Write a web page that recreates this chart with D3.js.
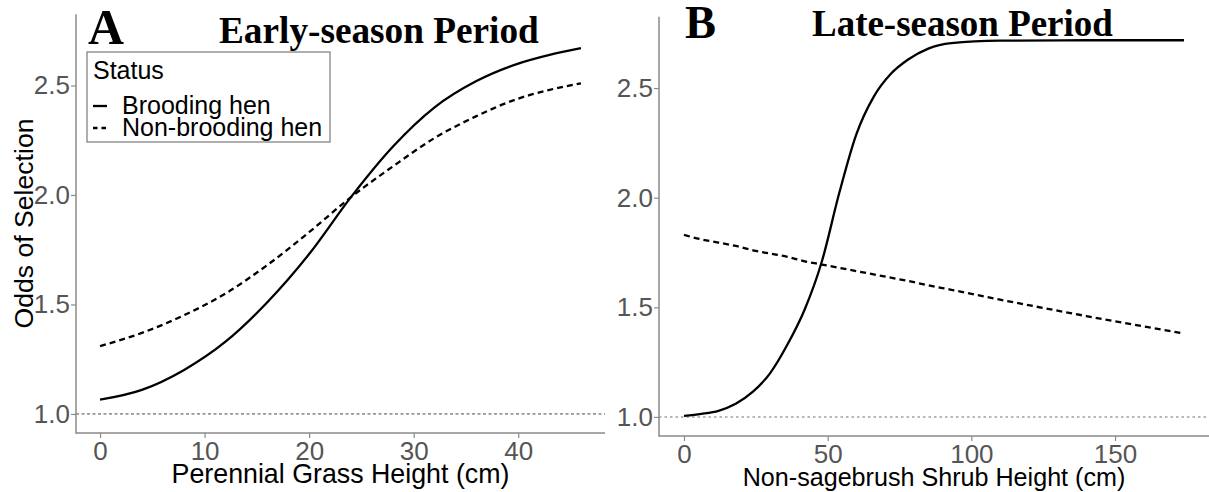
<!DOCTYPE html>
<html>
<head>
<meta charset="utf-8">
<script src="https://cdn.jsdelivr.net/npm/d3@7/dist/d3.min.js"></script>
<style>
  html, body { margin: 0; padding: 0; background: #fff; }
  svg { display: block; }
</style>
</head>
<body>
<svg id="chart" width="1209" height="492"></svg>
<script>
// Panel A: odds of selection vs perennial grass height (early season)
const grassHeight      = [0, 4, 8, 12, 16, 20, 24, 28, 32, 36, 40, 43, 46];
const grassBrooding    = [1.065, 1.11, 1.20, 1.33, 1.51, 1.73, 1.99, 2.22, 2.40, 2.52, 2.60, 2.64, 2.67];
const grassNonBrooding = [1.31, 1.37, 1.45, 1.55, 1.68, 1.83, 1.99, 2.13, 2.26, 2.36, 2.44, 2.48, 2.51];

// Panel B: odds of selection vs non-sagebrush shrub height (late season)
const shrubHeight      = [0, 6, 12, 18, 24, 30, 36, 42, 48, 54, 60, 66, 72, 78, 85, 93, 110, 140, 174];
const shrubBrooding    = [1.005, 1.014, 1.028, 1.06, 1.115, 1.20, 1.33, 1.49, 1.71, 2.02, 2.29, 2.46, 2.565, 2.63, 2.68, 2.705, 2.716, 2.718, 2.718];
const shrubNonBrooding = [1.83, 1.81, 1.795, 1.78, 1.76, 1.745, 1.73, 1.71, 1.695, 1.68, 1.665, 1.65, 1.635, 1.62, 1.60, 1.58, 1.535, 1.46, 1.38];

const yTicks  = [1.0, 1.5, 2.0, 2.5];
const xTicksA = [0, 10, 20, 30, 40];
const xTicksB = [0, 50, 100, 150];

const statusLabels = ["Brooding hen", "Non-brooding hen"];
const panelLetters = ["A", "B"];
const panelTitles  = ["Early-season Period", "Late-season Period"];
const xTitles      = ["Perennial Grass Height (cm)", "Non-sagebrush Shrub Height (cm)"];
const yTitle       = "Odds of Selection";
const legendTitle  = "Status";

const svg = d3.select("#chart");
const SANS  = "'Liberation Sans', Arial, sans-serif";
const SERIF = "'Liberation Serif', 'Times New Roman', serif";
const AXIS_GREY = "#8a8a8a";
const TICK_TEXT = "#555555";

// scale a text element's font size so its advance width equals w
function fitWidth(sel, w) {
  sel.attr("font-size", 100);
  const len = sel.node().getComputedTextLength();
  sel.attr("font-size", 100 * w / len);
}

const panels = [
  {
    xs: grassHeight, solid: grassBrooding, dashed: grassNonBrooding,
    xDomain: [-2.3, 48.3], xRange: [76, 605], yRange: [433, 14.3],
    xTicks: xTicksA, hlineColor: "#4a4a4a", hlineDash: "3,2.5", hlineWidth: 1,
    letter: { x: 88, y: 44, w: 36 }, title: { x: 219, y: 43, w: 320 },
    xTitle: { y: 483, w: 338 }
  },
  {
    xs: shrubHeight, solid: shrubBrooding, dashed: shrubNonBrooding,
    xDomain: [-8.7, 182.7], xRange: [659, 1209], yRange: [436, 16.8],
    xTicks: xTicksB, hlineColor: "#a0a0a0", hlineDash: "2.5,3", hlineWidth: 1.5,
    letter: { x: 685, y: 38, w: 31 }, title: { x: 812, y: 36, w: 301 },
    xTitle: { y: 486, w: 383 }
  }
];

panels.forEach((p, i) => {
  const x = d3.scaleLinear().domain(p.xDomain).range(p.xRange);
  const y = d3.scaleLinear().domain([0.913, 2.825]).range(p.yRange);
  const g = svg.append("g");

  // reference line at odds = 1
  g.append("line")
    .attr("x1", p.xRange[0]).attr("x2", p.xRange[1])
    .attr("y1", y(1)).attr("y2", y(1))
    .attr("stroke", p.hlineColor).attr("stroke-width", p.hlineWidth)
    .attr("stroke-dasharray", p.hlineDash);

  const line = d3.line().curve(d3.curveMonotoneX)
    .x(d => x(d[0])).y(d => y(d[1]));

  g.append("path")
    .datum(p.xs.map((v, k) => [v, p.dashed[k]]))
    .attr("d", line).attr("fill", "none")
    .attr("stroke", "#000").attr("stroke-width", 2.3)
    .attr("stroke-dasharray", "6,4");

  g.append("path")
    .datum(p.xs.map((v, k) => [v, p.solid[k]]))
    .attr("d", line).attr("fill", "none")
    .attr("stroke", "#000").attr("stroke-width", 2.3);

  // axes
  const yAxis = g.append("g")
    .attr("transform", `translate(${p.xRange[0]},0)`)
    .call(d3.axisLeft(y).tickValues(yTicks).tickFormat(d3.format(".1f")).tickSize(5).tickPadding(1));
  const xAxis = g.append("g")
    .attr("transform", `translate(0,${p.yRange[0]})`)
    .call(d3.axisBottom(x).tickValues(p.xTicks).tickFormat(d3.format("d")).tickSize(5).tickPadding(4));

  [yAxis, xAxis].forEach(ax => {
    ax.select(".domain").remove();
    ax.selectAll(".tick line").attr("stroke", AXIS_GREY).attr("stroke-width", 1.2);
    ax.selectAll(".tick text").attr("fill", TICK_TEXT)
      .attr("font-family", SANS).attr("font-size", 26);
  });

  // axis lines
  g.append("line")
    .attr("x1", p.xRange[0]).attr("x2", p.xRange[0])
    .attr("y1", p.yRange[1]).attr("y2", p.yRange[0] + 0.75)
    .attr("stroke", AXIS_GREY).attr("stroke-width", 1.5);
  g.append("line")
    .attr("x1", p.xRange[0]).attr("x2", p.xRange[1])
    .attr("y1", p.yRange[0]).attr("y2", p.yRange[0])
    .attr("stroke", AXIS_GREY).attr("stroke-width", 1.5);

  // x-axis title
  const xt = g.append("text")
    .attr("x", (p.xRange[0] + p.xRange[1]) / 2).attr("y", p.xTitle.y)
    .attr("text-anchor", "middle").attr("font-family", SANS)
    .attr("fill", "#000").text(xTitles[i]);
  fitWidth(xt, p.xTitle.w);

  // panel letter and title
  const lt = g.append("text")
    .attr("x", p.letter.x).attr("y", p.letter.y)
    .attr("font-family", SERIF).attr("font-weight", "bold")
    .attr("fill", "#000").text(panelLetters[i]);
  fitWidth(lt, p.letter.w);
  const tt = g.append("text")
    .attr("x", p.title.x).attr("y", p.title.y)
    .attr("font-family", SERIF).attr("font-weight", "bold")
    .attr("fill", "#000").text(panelTitles[i]);
  fitWidth(tt, p.title.w);
});

// y-axis title (panel A only)
const yt = svg.append("text")
  .attr("transform", "translate(33,223.5) rotate(-90)")
  .attr("text-anchor", "middle").attr("font-family", SANS)
  .attr("fill", "#000").text(yTitle);
fitWidth(yt, 210);

// legend for status
const lg = svg.append("g");
lg.append("rect")
  .attr("x", 87).attr("y", 52).attr("width", 243).attr("height", 90)
  .attr("fill", "#fff").attr("stroke", "#7a7a7a").attr("stroke-width", 1.2);
lg.append("text")
  .attr("x", 93).attr("y", 79).attr("font-family", SANS)
  .attr("font-size", 25).attr("fill", "#000").text(legendTitle);
const keyDash = [null, "4.5,4"];
const keyY = [106, 128];
const labelY = [114, 136];
statusLabels.forEach((lab, k) => {
  lg.append("line")
    .attr("x1", 93).attr("x2", 107).attr("y1", keyY[k]).attr("y2", keyY[k])
    .attr("stroke", "#000").attr("stroke-width", 2.3)
    .attr("stroke-dasharray", keyDash[k]);
  lg.append("text")
    .attr("x", 122).attr("y", labelY[k]).attr("font-family", SANS)
    .attr("font-size", 25).attr("fill", "#000").text(lab);
});
</script>
</body>
</html>
